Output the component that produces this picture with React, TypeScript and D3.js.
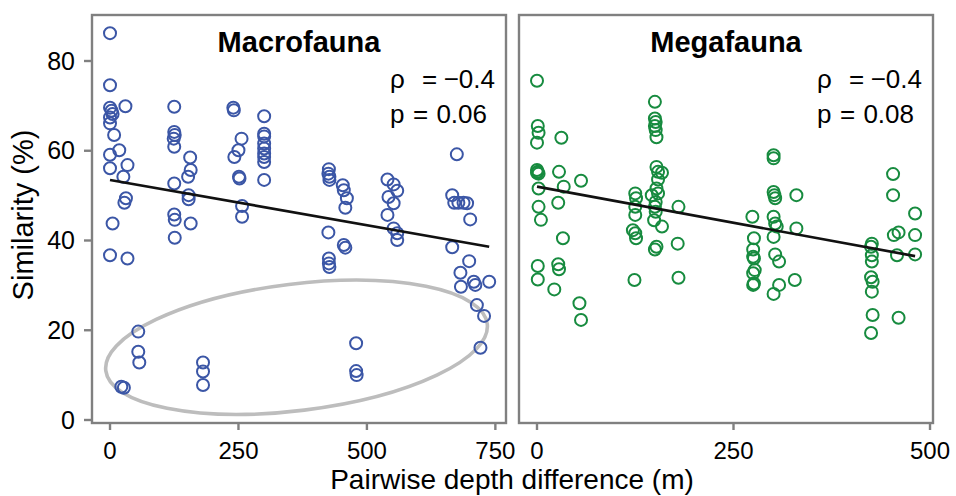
import React from 'react';
import * as d3 from 'd3';

// Pairwise comparisons: [depth difference (m), similarity (%)]
const macroPoints: [number, number][] = [
  [0, 86.2], [0, 74.6], [0, 69.6], [3, 68.9], [5, 68.2], [0, 67.4], [0, 66.1], [8, 63.5], [0, 59.1], [0, 56.1], [5, 43.8], [0, 36.7],
  [18, 60.1], [30, 69.9], [34, 56.8], [26, 54.2], [31, 49.4], [28, 48.4], [34, 36.0], [55, 19.7], [55, 15.2], [57, 12.8], [22, 7.4], [27, 7.2],
  [125, 69.8], [125, 64.2], [126, 63.5], [124, 62.7], [125, 60.9], [125, 52.7], [125, 45.8], [126, 44.6], [126, 40.6],
  [156, 58.5], [157, 55.7], [152, 54.2], [153, 50.1], [153, 49.2], [157, 43.8],
  [181, 12.8], [181, 10.8], [181, 7.8],
  [240, 69.6], [241, 69.0], [256, 62.7], [250, 60.1], [242, 58.6], [251, 54.2], [252, 53.8], [257, 47.7], [257, 45.3],
  [300, 67.7], [300, 63.8], [300, 63.2], [300, 61.6], [300, 60.5], [300, 59.4], [300, 58.6], [300, 57.5], [300, 53.5],
  [426, 55.9], [425, 54.9], [427, 54.2], [427, 53.5], [425, 41.8], [426, 36.0], [426, 34.9], [427, 34.1],
  [453, 52.3], [455, 51.2], [461, 49.4], [458, 47.3], [455, 39.0], [458, 38.4],
  [479, 17.1], [479, 10.9], [480, 10.0],
  [540, 53.6], [552, 52.5], [559, 51.1], [542, 49.7], [552, 48.3], [540, 45.7], [552, 42.7], [559, 41.6], [559, 40.1],
  [675, 59.2], [666, 50.1], [670, 48.4], [678, 48.4], [688, 48.4], [695, 48.3], [701, 44.7], [666, 38.5], [699, 35.4],
  [682, 32.8], [683, 29.7], [708, 30.8], [711, 30.1], [738, 30.8], [714, 25.6], [728, 23.2], [721, 16.1],
];

const megaPoints: [number, number][] = [
  [0, 75.6], [1, 65.5], [2, 64.0], [0, 61.8], [0, 55.7], [1, 55.3], [2, 54.9], [0, 55.1], [2, 51.6], [2, 47.5], [5, 44.6], [1, 34.3], [1, 31.3],
  [31, 62.9], [28, 55.3], [34, 52.0], [56, 53.3], [27, 48.4], [33, 40.5], [27, 34.7], [28, 33.6], [22, 29.1], [54, 26.0], [56, 22.3],
  [125, 50.5], [126, 49.4], [125, 47.5], [125, 45.7], [122, 42.3], [125, 41.6], [126, 40.5], [124, 31.2],
  [150, 70.9], [150, 67.2], [151, 66.4], [150, 65.5], [151, 64.6], [152, 63.0], [152, 56.4], [154, 55.3], [159, 55.1], [154, 53.6],
  [152, 51.6], [154, 50.5], [146, 50.1], [151, 48.6], [150, 47.5], [151, 46.4], [149, 44.5], [159, 43.1], [152, 38.6], [150, 38.0],
  [180, 47.5], [179, 39.3], [180, 31.7],
  [274, 45.3], [276, 40.5], [275, 38.0], [275, 36.4], [276, 36.0], [277, 33.4], [275, 32.7], [276, 30.4], [275, 30.1],
  [301, 59.0], [301, 58.3], [301, 50.8], [302, 50.1], [303, 49.4], [301, 45.3], [303, 43.8], [305, 43.1], [301, 40.8], [303, 36.9],
  [301, 28.1], [308, 35.3], [308, 30.1],
  [330, 50.1], [330, 42.7], [328, 31.2],
  [426, 39.3], [425, 38.6], [426, 36.7], [426, 35.3], [425, 31.8], [427, 30.8], [426, 28.6], [427, 23.4], [425, 19.4],
  [453, 54.8], [453, 50.1], [454, 41.2], [460, 41.8], [458, 36.7], [460, 22.8],
  [481, 46.0], [481, 41.2], [481, 36.9],
];

// Linear fits: [intercept, slope per m]
const macroFit = [53.5, -0.0202];
const megaFit = [52.0, -0.0322];

// Spearman statistics: [rho, p]
const macroStats = ['\u22120.4', '0.06'];
const megaStats = ['\u22120.4', '0.08'];

const yTicks = [0, 20, 40, 60, 80];
const macroXTicks = [0, 250, 500, 750];
const megaXTicks = [0, 250, 500];

// Outlier group outline: centre depth, centre similarity, radius (m), radius (%), rotation (deg)
const outlierRing = [363, 16.2, 374, 14.1, -7];

const FONT = '"Liberation Sans", Arial, Helvetica, sans-serif';
const AXIS = '#808080';
const TOP = 15;
const BOTTOM = 423;

const yScale = d3.scaleLinear().domain([-0.67, 90.25]).range([BOTTOM, TOP]);

type Panel = {
  title: string;
  points: [number, number][];
  fit: number[];
  stats: string[];
  ticks: number[];
  domain: [number, number];
  left: number;
  right: number;
  color: string;
  ring?: number[];
};

const panels: Panel[] = [
  {
    title: 'Macrofauna', points: macroPoints, fit: macroFit, stats: macroStats, ticks: macroXTicks,
    domain: [-35.06, 770.7], left: 92, right: 506, color: '#3b56a6', ring: outlierRing,
  },
  {
    title: 'Megafauna', points: megaPoints, fit: megaFit, stats: megaStats, ticks: megaXTicks,
    domain: [-22.9, 503.8], left: 519, right: 933, color: '#178b3f',
  },
];

function PanelView({ p }: { p: Panel }) {
  const x = d3.scaleLinear().domain(p.domain).range([p.left, p.right]);
  const maxD = d3.max(p.points, (d) => d[0]) as number;
  const line = d3.line<number>().x((d) => x(d)).y((d) => yScale(p.fit[0] + p.fit[1] * d));
  const R = p.right;
  let ring: React.ReactNode = null;
  if (p.ring) {
    const [cd, cs, rd, rs, rot] = p.ring;
    const cx = x(cd);
    const cy = yScale(cs);
    const rx = x(cd + rd) - cx;
    const ry = yScale(cs - rs) - cy;
    ring = (
      <ellipse cx={cx} cy={cy} rx={rx} ry={ry} transform={`rotate(${rot} ${cx} ${cy})`}
        fill="none" stroke="#bdbdbd" strokeWidth={3.6} />
    );
  }
  return (
    <g>
      {ring}
      {p.points.map((d, i) => (
        <circle key={i} cx={x(d[0])} cy={yScale(d[1])} r={6} fill="none" stroke={p.color} strokeWidth={2} />
      ))}
      <path d={line([0, maxD]) || ''} fill="none" stroke="#111" strokeWidth={2.6} />
      <rect x={p.left} y={TOP} width={p.right - p.left} height={BOTTOM - TOP} fill="none" stroke={AXIS} strokeWidth={2.4} />
      {p.ticks.map((t) => (
        <g key={t}>
          <line x1={x(t)} x2={x(t)} y1={BOTTOM} y2={BOTTOM + 7} stroke={AXIS} strokeWidth={2.4} />
          <text x={x(t)} y={459} textAnchor="middle" fontSize={24} fill="#000">{t}</text>
        </g>
      ))}
      <text x={(p.left + p.right) / 2} y={52} textAnchor="middle" fontSize={29} fontWeight="bold" fill="#000">{p.title}</text>
      <g fontSize={26} fill="#000">
        <text x={R - 116} y={88}>ρ</text>
        <text x={R - 84} y={88}>=</text>
        <text x={R - 11} y={88} textAnchor="end">{p.stats[0]}</text>
        <text x={R - 116} y={123}>p</text>
        <text x={R - 93} y={123}>=</text>
        <text x={R - 19} y={123} textAnchor="end">{p.stats[1]}</text>
      </g>
    </g>
  );
}

export default function App() {
  return (
    <svg width={956} height={496} viewBox="0 0 956 496"
      style={{ position: 'absolute', left: 0, top: 0, fontFamily: FONT, background: '#fff' }}>
      <rect width={956} height={496} fill="#fff" />
      {panels.map((p) => <PanelView key={p.title} p={p} />)}
      {yTicks.map((t) => (
        <g key={t}>
          <line x1={84} x2={92} y1={yScale(t)} y2={yScale(t)} stroke={AXIS} strokeWidth={2.4} />
          <text x={75} y={yScale(t)} dy="0.35em" textAnchor="end" fontSize={25} fill="#000">{t}</text>
        </g>
      ))}
      <text x={512} y={489} textAnchor="middle" fontSize={28} fill="#000">Pairwise depth difference (m)</text>
      <text transform="translate(33,215) rotate(-90)" textAnchor="middle" fontSize={29} fill="#000">Similarity (%)</text>
    </svg>
  );
}
